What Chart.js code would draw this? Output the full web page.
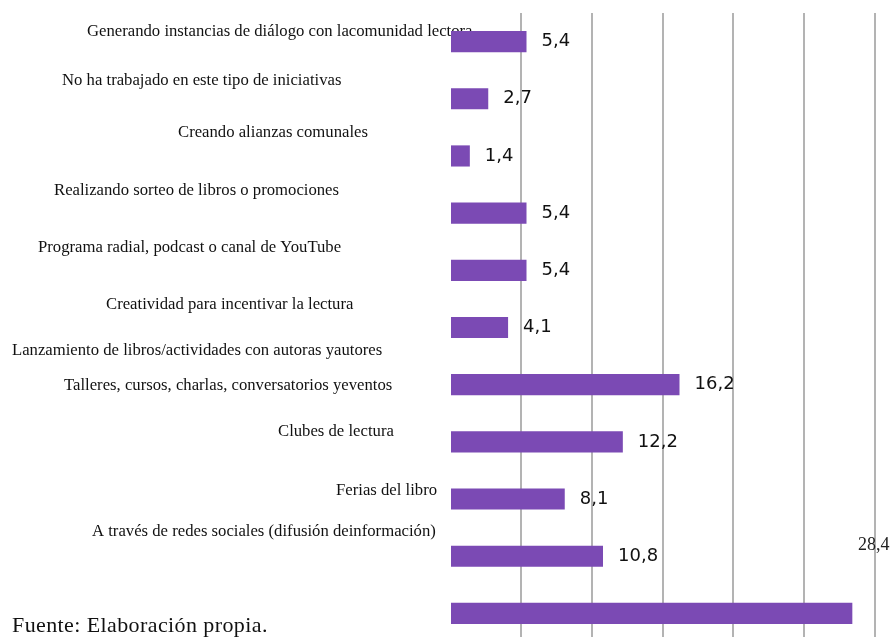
<!DOCTYPE html>
<html>
<head>
<meta charset="utf-8">
<script src="https://cdn.jsdelivr.net/npm/chart.js@4"></script>
<style>
  html, body { margin: 0; padding: 0; background: #fff; overflow: hidden; }
  #wrap { position: relative; width: 895px; height: 637px; overflow: hidden; }
  #wrap canvas { position: absolute; left: 0; top: 0; }
  #fuente {
    position: absolute; left: 12px; top: 612px;
    font-family: "Liberation Serif", serif; font-size: 22px; letter-spacing: 0.4px;
    color: #111; white-space: nowrap;
  }
</style>
</head>
<body>
<div id="wrap">
  <canvas id="chart" width="895" height="642"></canvas>
  <div id="fuente">Fuente: Elaboración propia.</div>
</div>
<script>
// categorias y porcentajes
const categorias = [
  "Generando instancias de diálogo con lacomunidad lectora",
  "No ha trabajado en este tipo de iniciativas",
  "Creando alianzas comunales",
  "Realizando sorteo de libros o promociones",
  "Programa radial, podcast o canal de YouTube",
  "Creatividad para incentivar la lectura",
  "Lanzamiento de libros/actividades con autoras yautores",
  "Talleres, cursos, charlas, conversatorios yeventos",
  "Clubes de lectura",
  "Ferias del libro",
  "A través de redes sociales (difusión deinformación)"
];
const porcentajes = [5.4, 2.7, 1.4, 5.4, 5.4, 4.1, 16.2, 12.2, 8.1, 10.8, 28.4];
const ticksX = [0, 5, 10, 15, 20, 25, 30];

// donde va cada texto de categoria (x izquierda, desplazamiento vertical desde la barra)
const etiquetaX = [87, 62, 178, 54, 38, 106, 12, 64, 278, 336, 92];
const etiquetaDy = [-10, -18, -23, -23, -23, -23, -34, -56, -67, -66, -82];

const coma = v => v.toFixed(1).replace(".", ",");

// textos de categoria, por debajo de las barras
const textosCategoria = {
  id: "textosCategoria",
  beforeDatasetsDraw(chart) {
    const c = chart.ctx;
    const y = chart.scales.y;
    c.save();
    c.font = '16.7px "Liberation Serif", serif';
    c.fillStyle = "#111";
    c.textAlign = "left";
    c.textBaseline = "middle";
    categorias.forEach((t, i) => {
      c.fillText(t, etiquetaX[i], y.getPixelForValue(i) + etiquetaDy[i]);
    });
    c.restore();
  }
};

// valores al lado de cada barra
const valores = {
  id: "valores",
  afterDatasetsDraw(chart) {
    const c = chart.ctx;
    const meta = chart.getDatasetMeta(0);
    c.save();
    c.textBaseline = "middle";
    c.textAlign = "left";
    meta.data.forEach((bar, i) => {
      const txt = coma(porcentajes[i]);
      c.font = '18px "DejaVu Sans", sans-serif';
      const w = c.measureText(txt).width;
      if (bar.x + 15 + w > chart.width) {
        // no cabe: se escribe arriba, pegado al borde
        c.font = '18px "Liberation Serif", serif';
        c.fillStyle = "#222";
        c.fillText(txt, chart.chartArea.right - 17, bar.y - 68);
      } else {
        c.fillStyle = "#111";
        c.fillText(txt, bar.x + 15, bar.y);
      }
    });
    c.restore();
  }
};

new Chart(document.getElementById("chart"), {
  type: "bar",
  data: {
    labels: categorias,
    datasets: [{
      data: porcentajes,
      backgroundColor: "#7b4ab4",
      barPercentage: 0.37,
      categoryPercentage: 1
    }]
  },
  options: {
    indexAxis: "y",
    responsive: false,
    animation: false,
    layout: { padding: { left: 450, right: 20, top: 13, bottom: 0 } },
    plugins: { legend: { display: false }, tooltip: { enabled: false } },
    scales: {
      x: {
        min: 0,
        max: 30,
        afterBuildTicks: s => { s.ticks = ticksX.map(v => ({ value: v })); },
        ticks: { display: false },
        border: { display: false },
        grid: {
          drawTicks: false,
          lineWidth: 2,
          color: ctx => ctx.tick && ctx.tick.value === 0 ? "rgba(0,0,0,0)" : "#b3b3b3"
        }
      },
      y: { display: false }
    }
  },
  plugins: [textosCategoria, valores]
});
</script>
</body>
</html>
